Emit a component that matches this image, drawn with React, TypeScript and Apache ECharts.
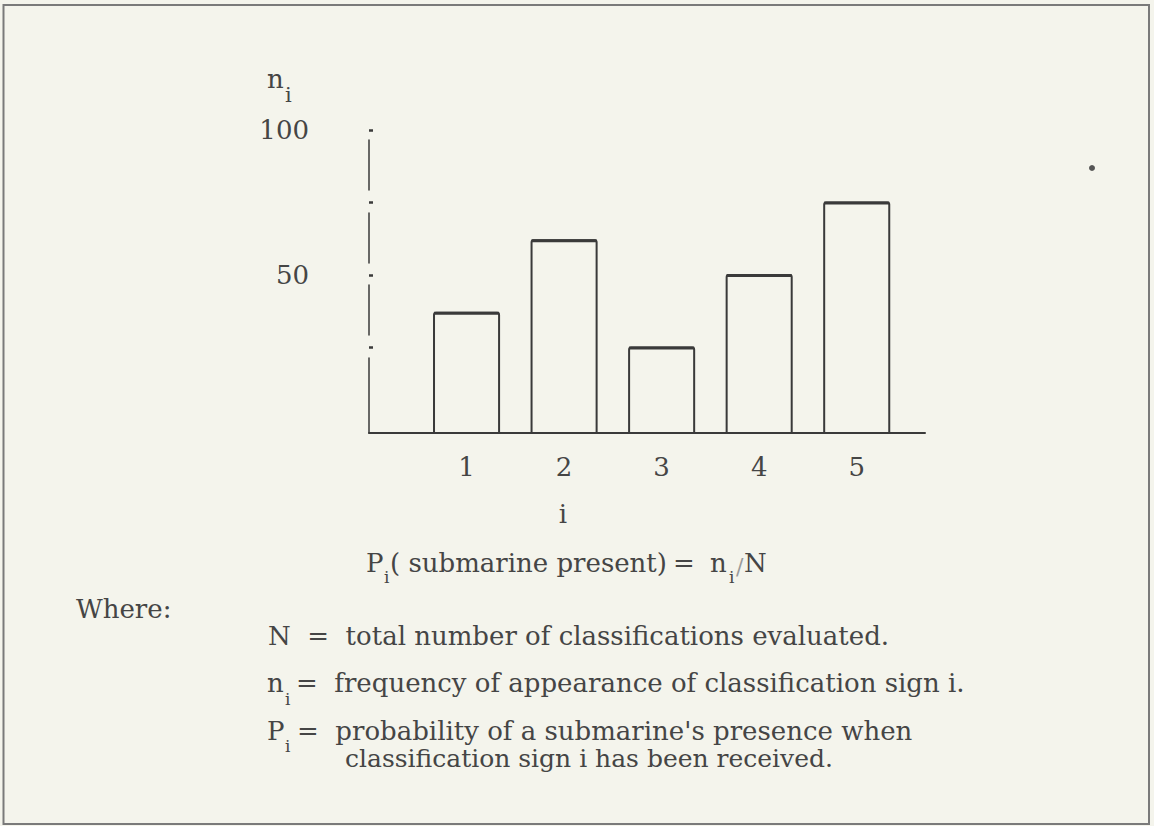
import React, { useEffect, useRef } from "react";
import * as echarts from "echarts";

// ---- data ----
const categories = [1, 2, 3, 4, 5];
const counts = [37, 62, 25, 50, 75];
const yTickValues = [25, 50, 75, 100];
const yLabelValues = [50, 100];
const Y_MIN = -4.5;
const Y_MAX = 100;
const X_MIN = 0;
const X_MAX = 5.7;
const BAR_WIDTH = 0.667;

// ---- style ----
const INK = "#3a3a3a";
const TEXT = "#454545";
const PAPER = "#f4f4ec";
const FONT = "'DejaVu Serif', 'Liberation Serif', serif";

function txt(text: string, x: number, baseline: number, size = 26, extra: any = {}) {
  return {
    type: "text",
    x,
    y: baseline - 0.346 * size,
    silent: true,
    style: {
      text,
      fill: TEXT,
      fontSize: size,
      fontFamily: FONT,
      align: "left",
      textAlign: "left",
      verticalAlign: "middle",
      textVerticalAlign: "middle",
      ...extra,
    },
  };
}

export default function App() {
  const ref = useRef<HTMLDivElement>(null);

  useEffect(() => {
    if (!ref.current) return;
    const chart = echarts.init(ref.current, null, { renderer: "svg" });

    const SUB = 17;
    const graphics: any[] = [
      {
        type: "rect",
        silent: true,
        shape: { x: 3.5, y: 5, width: 1145.5, height: 819 },
        style: { fill: "none", stroke: "#7a7a7a", lineWidth: 2 },
      },
      { type: "circle", silent: true, shape: { cx: 1092, cy: 168, r: 3 }, style: { fill: "#555" } },
      // y axis name n_i
      txt("n", 267, 88),
      txt("i", 285, 102, 21),
      // x axis name
      txt("i", 563, 523, 26, { align: "center", textAlign: "center" }),
      // formula
      txt("P", 366, 572),
      txt("i", 384, 583, SUB),
      txt("( submarine present)", 390, 572),
      txt("=", 673, 572),
      txt("n", 710, 572),
      txt("i", 729, 583, SUB),
      txt("/", 736, 574, 22, { fill: "#9a9a9a" }),
      txt("N", 744, 572),
      // legend of terms
      txt("Where:", 76, 618),
      txt("N  =  total number of classifications evaluated.", 268, 645),
      txt("n", 267, 692),
      txt("i", 285, 705, SUB),
      txt("=  frequency of appearance of classification sign i.", 296, 692),
      txt("P", 267, 740),
      txt("i", 285, 752, SUB),
      txt("=  probability of a submarine's presence when", 297, 740),
      txt("classification sign i has been received.", 345, 767, 25),
    ];

    chart.setOption({
      animation: false,
      backgroundColor: PAPER,
      grid: {
        left: 369,
        right: 229,
        top: 130,
        bottom: 393,
        containLabel: false,
        outerBoundsMode: "none",
      },
      xAxis: {
        type: "value",
        min: X_MIN,
        max: X_MAX,
        axisLine: { show: true, onZero: false, lineStyle: { color: INK, width: 2 } },
        axisTick: { show: false },
        splitLine: { show: false },
        axisLabel: {
          show: true,
          customValues: categories,
          margin: 21,
          color: TEXT,
          fontSize: 26,
          fontFamily: FONT,
        },
      },
      yAxis: {
        type: "value",
        min: Y_MIN,
        max: Y_MAX,
        axisLine: {
          show: true,
          onZero: false,
          lineStyle: { color: INK, width: 1.5, type: [75, 23, 50, 22, 50, 23, 50, 20] },
        },
        axisTick: {
          show: true,
          inside: true,
          length: 4,
          customValues: yTickValues,
          lineStyle: { color: INK, width: 2.5 },
        },
        axisLabel: {
          show: true,
          customValues: yLabelValues,
          margin: 60,
          color: TEXT,
          fontSize: 26,
          fontFamily: FONT,
        },
        splitLine: { show: false },
      },
      series: [
        {
          type: "custom",
          coordinateSystem: "cartesian2d",
          clip: false,
          z: 3,
          data: categories.map((c, i) => [c, counts[i]]),
          renderItem: (_params: any, api: any) => {
            const x = api.value(0);
            const v = api.value(1);
            const top = api.coord([x, v]);
            const base = api.coord([x, Y_MIN]);
            const w = api.size([BAR_WIDTH, 0])[0];
            const left = top[0] - w / 2;
            return {
              type: "group",
              children: [
                {
                  type: "rect",
                  shape: { x: left, y: top[1], width: w, height: base[1] - top[1], r: [2, 2, 0, 0] },
                  style: { fill: "none", stroke: INK, lineWidth: 2 },
                },
                {
                  type: "line",
                  shape: { x1: left, y1: top[1] + 0.5, x2: left + w, y2: top[1] + 0.5 },
                  style: { stroke: INK, lineWidth: 3 },
                },
              ],
            };
          },
        },
      ],
      graphic: graphics,
    });

    return () => chart.dispose();
  }, []);

  return (
    <div
      ref={ref}
      style={{ position: "fixed", left: 0, top: 0, width: 1154, height: 826, background: PAPER }}
    />
  );
}
